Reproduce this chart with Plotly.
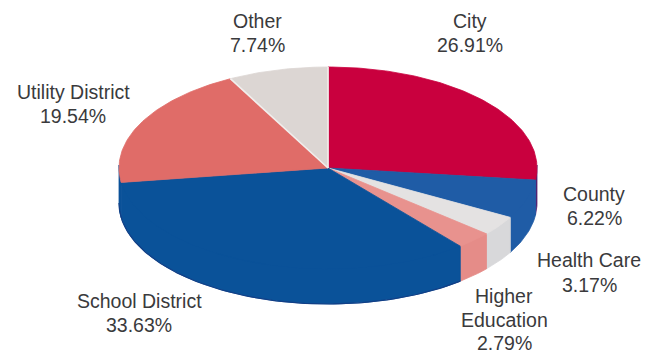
import math
import plotly.graph_objects as go

# Shares of the total, clockwise from twelve o'clock
categories = ["City", "County", "Health Care", "Higher Education", "School District", "Utility District", "Other"]
shares = [26.91, 6.22, 3.17, 2.79, 33.63, 19.54, 7.74]
top_colors = ["#c9003e", "#1f5ca6", "#e4e2e2", "#e8928e", "#0a5299", "#e06c68", "#dcd6d3"]
wall_colors = ["#4f2070", "#1f5ca6", "#d8d8da", "#e58c88", "#0a5299", "#0a5299", "#c8c2c0"]

# Text lines per label, and where each label block sits
label_lines = [["City", "26.91%"], ["County", "6.22%"], ["Health Care", "3.17%"],
               ["Higher", "Education", "2.79%"], ["School District", "33.63%"],
               ["Utility District", "19.54%"], ["Other", "7.74%"]]
label_centers = [(470, 21), (594, 194), (589, 260), (504, 296), (139, 301), (73, 92), (257, 21)]
line_steps = [24, 24, 25, 23.5, 24, 24, 24]

CX, CY, RX, RY, DEPTH = 328, 168, 209, 101, 35
TOTAL = sum(shares)


def rim(deg, drop=0):
    a = math.radians(deg)
    return CX + RX * math.sin(a), CY - RY * math.cos(a) + drop


def arc(start, end, drop=0):
    n = max(2, int(abs(end - start)) + 2)
    return [rim(start + (end - start) * i / (n - 1), drop) for i in range(n)]


def polygon(points, fill, line=None, width=0.8):
    xs, ys = zip(*points)
    return go.Scatter(x=list(xs) + [xs[0]], y=list(ys) + [ys[0]], mode="lines", fill="toself",
                      fillcolor=fill, line=dict(color=line or fill, width=width),
                      hoverinfo="skip", showlegend=False)


spans = []
running = 0
for s in shares:
    spans.append((running / TOTAL * 360, (running + s) / TOTAL * 360))
    running += s

fig = go.Figure()

# Outer wall: only the part of each slice facing the viewer.
# Its upper edge tucks under the top face so no seam shows along the rim.
for (a, b), c in zip(spans, wall_colors):
    lo, hi = max(a, 90), min(b, 270)
    if hi > lo:
        fig.add_trace(polygon(arc(lo, hi, -3) + arc(hi, lo, DEPTH), c))

# Slightly darker lower edge under the school district slice
school = categories.index("School District")
rim_pts = arc(spans[school][0], 270, DEPTH)
fig.add_trace(go.Scatter(x=[p[0] for p in rim_pts], y=[p[1] for p in rim_pts], mode="lines",
                         line=dict(color="#123f86", width=1.2), hoverinfo="skip", showlegend=False))

# Top faces
for (a, b), c in zip(spans, top_colors):
    fig.add_trace(polygon([(CX, CY)] + arc(a, b), c))

# Pale seams around the last slice
for deg in (spans[-1][0], spans[-1][1]):
    x, y = rim(deg)
    fig.add_trace(go.Scatter(x=[CX, x], y=[CY, y], mode="lines",
                             line=dict(color="#f1eeec", width=1.6), hoverinfo="skip", showlegend=False))

annotations = []
for lines, (lx, ly), step in zip(label_lines, label_centers, line_steps):
    for i, text in enumerate(lines):
        annotations.append(dict(x=lx, y=ly + i * step, text=text, showarrow=False,
                                xanchor="center", yanchor="middle",
                                font=dict(family="Liberation Sans, Arial, sans-serif", size=19.5, color="#3a3a3c")))

fig.update_layout(
    width=657, height=354, margin=dict(l=0, r=0, t=0, b=0),
    paper_bgcolor="white", plot_bgcolor="white", showlegend=False,
    xaxis=dict(range=[0, 657], visible=False, fixedrange=True),
    yaxis=dict(range=[354, 0], visible=False, fixedrange=True),
    annotations=annotations,
)
fig.write_html("out.html", config={"displayModeBar": False})
